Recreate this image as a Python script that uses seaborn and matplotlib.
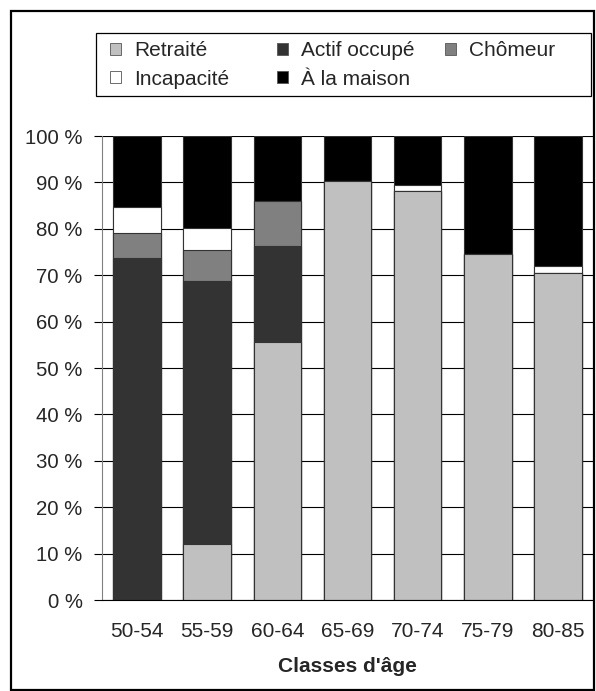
import numpy as np
import pandas as pd
import seaborn as sns
import matplotlib.pyplot as plt
from matplotlib.patches import Rectangle, Patch

# data (percent of each age class)
ages = ['50-54', '55-59', '60-64', '65-69', '70-74', '75-79', '80-85']
retraite = [0.0, 12.0, 55.5, 90.4, 88.2, 74.5, 70.5]
actif = [73.8, 56.8, 20.8, 0.0, 0.0, 0.0, 0.0]
chomeur = [5.4, 6.7, 9.6, 0.0, 0.0, 0.0, 0.0]
incapacite = [5.4, 4.6, 0.0, 0.0, 1.2, 0.0, 1.5]
maison = [15.4, 19.9, 14.1, 9.6, 10.6, 25.5, 28.0]

labels = ['Retraité', 'Actif occupé', 'Chômeur', 'Incapacité', 'À la maison']
colors = ['#c0c0c0', '#333333', '#808080', '#ffffff', '#000000']

sns.set_style('white')
plt.rcParams['font.family'] = ['Liberation Sans', 'DejaVu Sans']
FS = 15

W, H = 596, 691

df = pd.DataFrame({'age': ages, 'Retraité': retraite, 'Actif occupé': actif,
                   'Chômeur': chomeur, 'Incapacité': incapacite,
                   'À la maison': maison})
# cumulative tops, drawn from the top segment down so each overlays the previous
cum = df[labels].cumsum(axis=1)

fig = plt.figure(figsize=(W / 100, H / 100), dpi=100)
ax = fig.add_axes([102 / W, 1 - 600 / H, 491 / W, 464 / H])

for lab, col in reversed(list(zip(labels, colors))):
    sns.barplot(x=df['age'], y=cum[lab], color=col, saturation=1, width=0.68,
                edgecolor='#333333', linewidth=0.8, ax=ax, zorder=2)

ax.set_ylim(0, 100)
ax.set_xlim(-0.5, len(ages) - 0.5)
ax.set_yticks(np.arange(0, 101, 10))
ax.set_yticklabels([f'{v} %' for v in range(0, 101, 10)], fontsize=14.7)
ax.yaxis.grid(True, color='black', linewidth=0.8, zorder=0)
ax.set_axisbelow(True)

ax.set_xticks(range(len(ages)))
ax.set_xticklabels(ages, fontsize=FS)
ax.set_xticks(np.arange(-0.5, len(ages), 1), minor=True)
ax.tick_params(axis='x', which='major', length=0, pad=16)
ax.tick_params(axis='x', which='minor', length=5, width=0.8, color='black', direction='out')
ax.tick_params(axis='y', length=6, width=0.8, color='black', direction='out', left=True, pad=8)

ax.set_xlabel("Classes d'âge", fontsize=FS, fontweight='bold', labelpad=11)
ax.set_ylabel('')

for s in ['top', 'right']:
    ax.spines[s].set_visible(False)
ax.spines['left'].set_color('#808080')
ax.spines['left'].set_linewidth(0.8)
ax.spines['bottom'].set_color('black')
ax.spines['bottom'].set_linewidth(0.8)

# legend: three columns placed like the original, one frame around them
handles = {lab: Patch(facecolor=col, edgecolor='#555555', linewidth=0.6)
           for lab, col in zip(labels, colors)}
columns = [(['Retraité', 'Incapacité'], 110),
           (['Actif occupé', 'À la maison'], 277),
           (['Chômeur'], 445)]
for names, xpx in columns:
    leg = fig.legend([handles[n] for n in names], names, loc='upper left',
                     bbox_to_anchor=(xpx / W, 1 - 41 / H), borderaxespad=0,
                     borderpad=0, fontsize=FS, frameon=False,
                     handlelength=0.52, handleheight=0.52, handletextpad=0.65,
                     labelspacing=0.46)
fig.patches.append(Rectangle((96 / W, 1 - 96 / H), 495 / W, 63 / H,
                             transform=fig.transFigure, fill=False,
                             edgecolor='black', linewidth=0.9))

# outer frame
fig.patches.append(Rectangle((11 / W, 1 / H), 583 / W, 679 / H,
                             transform=fig.transFigure, fill=False,
                             edgecolor='black', linewidth=1.6))

fig.savefig('out.png', dpi=100)
